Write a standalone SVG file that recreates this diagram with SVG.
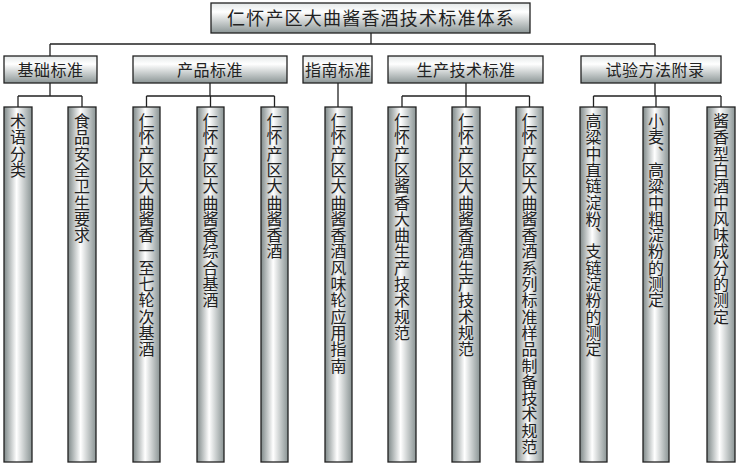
<svg xmlns="http://www.w3.org/2000/svg" width="740" height="466" viewBox="0 0 740 466">
<defs>
<linearGradient id="gH" x1="0" y1="0" x2="0" y2="1">
<stop offset="0" stop-color="#e4e8e8"/>
<stop offset="0.3" stop-color="#ffffff"/>
<stop offset="1" stop-color="#8c9696"/>
</linearGradient>
<linearGradient id="gV" x1="0" y1="0" x2="1" y2="0">
<stop offset="0" stop-color="#7f8989"/>
<stop offset="0.45" stop-color="#ffffff"/>
<stop offset="1" stop-color="#8a9494"/>
</linearGradient>
<style>
.hb{fill:url(#gH);stroke:#222;stroke-width:1.3}
.lb{fill:url(#gV);stroke:#222;stroke-width:1.3}
.ht{font-family:"Noto Sans CJK SC","Noto Sans CJK TC",sans-serif;font-size:16px;fill:#222;text-anchor:middle;letter-spacing:0.5px}
.tt{font-family:"Noto Sans CJK SC","Noto Sans CJK TC",sans-serif;font-size:18px;fill:#222;text-anchor:middle;letter-spacing:1.2px}
.vt{font-family:"Noto Sans CJK SC","Noto Sans CJK TC",sans-serif;font-size:16px;fill:#222;writing-mode:vertical-rl;letter-spacing:0.3px}
.c{fill:none;stroke:#222;stroke-width:1.3}
</style>
</defs>
<rect width="740" height="466" fill="#ffffff"/>
<g id="connectors">
<path class="c" d="M371,33V44M50,44H655M50,44V56M655,44V56"/>
<path class="c" d="M50,83V96M18,96H82M18,96V107M82,96V107"/>
<path class="c" d="M210,83V96M146.5,96H274.5M146.5,96V107M210.5,96V107M274.5,96V107"/>
<path class="c" d="M338,83V107"/>
<path class="c" d="M466,83V96M402,96H529.5M402,96V107M466,96V107M529.5,96V107"/>
<path class="c" d="M655,83V96M593.5,96H721M593.5,96V107M656,96V107M721,96V107"/>
</g>
<g id="root"><rect class="hb" x="211" y="3" width="319" height="30"/><text class="tt" x="371" y="24.5">仁怀产区大曲酱香酒技术标准体系</text></g>
<g id="n-jichu"><rect class="hb" x="4" y="56" width="93" height="27"/><text class="ht" x="50.5" y="75.5">基础标准</text></g>
<g id="n-chanpin"><rect class="hb" x="133" y="56" width="154" height="27"/><text class="ht" x="210" y="75.5">产品标准</text></g>
<g id="n-zhinan"><rect class="hb" x="303" y="56" width="69" height="27"/><text class="ht" x="338" y="75.5">指南标准</text></g>
<g id="n-shengchan"><rect class="hb" x="388" y="56" width="155" height="27"/><text class="ht" x="466" y="75.5">生产技术标准</text></g>
<g id="n-shiyan"><rect class="hb" x="581" y="56" width="140" height="27"/><text class="ht" x="655" y="75.5">试验方法附录</text></g>
<g id="l1"><rect class="lb" x="4" y="107" width="28" height="355"/><text class="vt" x="18" y="113">术语分类</text></g>
<g id="l2"><rect class="lb" x="68" y="107" width="28" height="355"/><text class="vt" x="82" y="113">食品安全卫生要求</text></g>
<g id="l3"><rect class="lb" x="133" y="107" width="27" height="355"/><text class="vt" x="146.5" y="113">仁怀产区大曲酱香一至七轮次基酒</text></g>
<g id="l4"><rect class="lb" x="197" y="107" width="27" height="355"/><text class="vt" x="210.5" y="113">仁怀产区大曲酱香综合基酒</text></g>
<g id="l5"><rect class="lb" x="261" y="107" width="27" height="355"/><text class="vt" x="274.5" y="113">仁怀产区大曲酱香酒</text></g>
<g id="l6"><rect class="lb" x="325" y="107" width="27" height="355"/><text class="vt" x="338.5" y="113">仁怀产区大曲酱香酒风味轮应用指南</text></g>
<g id="l7"><rect class="lb" x="388" y="107" width="28" height="355"/><text class="vt" x="402" y="113">仁怀产区酱香大曲生产技术规范</text></g>
<g id="l8"><rect class="lb" x="452" y="107" width="28" height="355"/><text class="vt" x="466" y="113">仁怀产区大曲酱香酒生产技术规范</text></g>
<g id="l9"><rect class="lb" x="516" y="107" width="27" height="355"/><text class="vt" x="529.5" y="113">仁怀产区大曲酱香酒系列标准样品制备技术规范</text></g>
<g id="l10"><rect class="lb" x="580" y="107" width="27" height="355"/><text class="vt" x="593.5" y="113">高粱中直链淀粉、支链淀粉的测定</text></g>
<g id="l11"><rect class="lb" x="643" y="107" width="26" height="355"/><text class="vt" x="656" y="113">小麦、高粱中粗淀粉的测定</text></g>
<g id="l12"><rect class="lb" x="707" y="107" width="28" height="355"/><text class="vt" x="721" y="113">酱香型白酒中风味成分的测定</text></g>
</svg>
